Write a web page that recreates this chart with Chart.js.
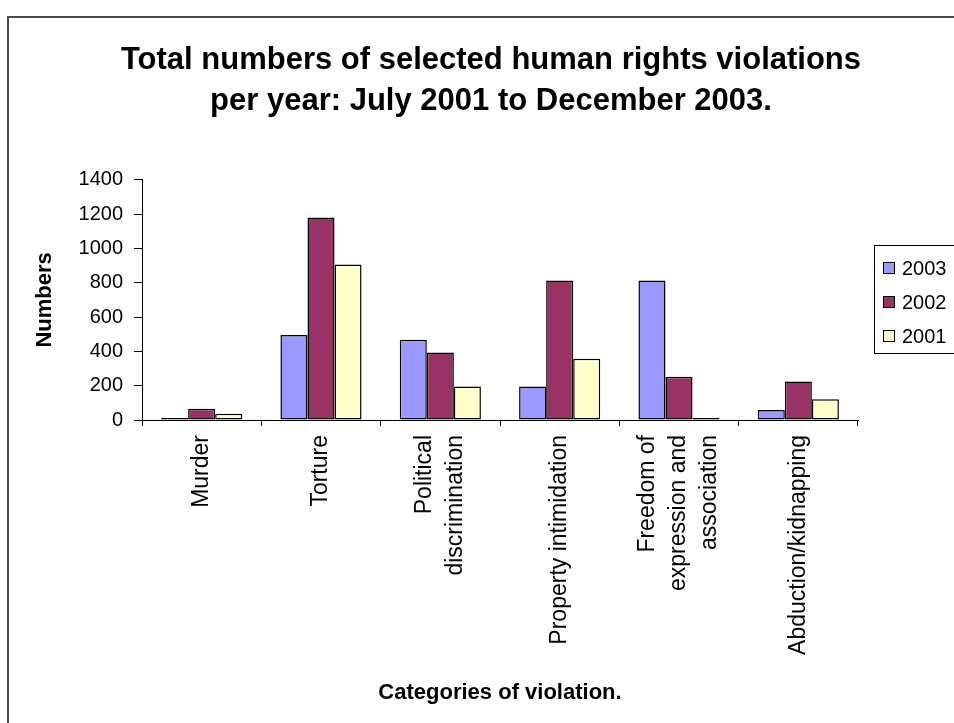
<!DOCTYPE html>
<html>
<head>
<meta charset="utf-8">
<script src="https://cdn.jsdelivr.net/npm/chart.js@4.4.1/dist/chart.umd.min.js"></script>
<style>
  html, body { margin: 0; padding: 0; background: #fff; }
  #wrap { width: 954px; height: 723px; position: relative; overflow: hidden; }
</style>
</head>
<body>
<div id="wrap"><canvas id="violations" width="954" height="723"></canvas></div>
<script>
// violation categories (multi-line labels are split into arrays)
const categories = [
  ['Murder'],
  ['Torture'],
  ['Political', 'discrimination'],
  ['Property intimidation'],
  ['Freedom of', 'expression and', 'association'],
  ['Abduction/kidnapping']
];
const years = ['2003', '2002', '2001'];
const counts2003 = [12, 495, 468, 195, 813, 58];
const counts2002 = [65, 1180, 394, 813, 252, 224];
const counts2001 = [37, 907, 195, 357, 12, 121];
const yearColors = ['#9999FF', '#993366', '#FFFFCC'];
const yTicks = [0, 200, 400, 600, 800, 1000, 1200, 1400];

const FONT = '"Liberation Sans", Arial, Helvetica, sans-serif';
Chart.defaults.font.family = FONT;
Chart.defaults.color = '#000';

// thin frame around the whole chart
const frame = {
  id: 'frame',
  beforeDraw(chart) {
    const ctx = chart.ctx;
    ctx.save();
    ctx.fillStyle = '#fff';
    ctx.fillRect(0, 0, chart.width, chart.height);
    ctx.strokeStyle = '#4a4a4a';
    ctx.lineWidth = 2;
    ctx.beginPath();
    ctx.moveTo(8, chart.height);
    ctx.lineTo(8, 17);
    ctx.lineTo(chart.width, 17);
    ctx.stroke();
    ctx.restore();
  }
};

// vertical category labels, each block centred on its category
const verticalLabels = {
  id: 'verticalLabels',
  afterDraw(chart) {
    const ctx = chart.ctx;
    const xs = chart.scales.x;
    const lh = 31;
    ctx.save();
    ctx.font = '23px ' + FONT;
    ctx.fillStyle = '#000';
    ctx.textAlign = 'right';
    ctx.textBaseline = 'middle';
    chart.data.labels.forEach((lines, i) => {
      const cx = xs.getPixelForTick(i);
      lines.forEach((line, j) => {
        const x = cx + (j - (lines.length - 1) / 2) * lh;
        ctx.save();
        ctx.translate(x, xs.top + 15);
        ctx.rotate(-Math.PI / 2);
        ctx.fillText(line, 0, 0);
        ctx.restore();
      });
    });
    ctx.restore();
  }
};

// boxed legend on the right, partly cut by the edge
const sideLegend = {
  id: 'sideLegend',
  afterDraw(chart) {
    const ctx = chart.ctx;
    const left = 874, top = 245, rowH = 34;
    ctx.save();
    ctx.strokeStyle = '#000';
    ctx.lineWidth = 1;
    ctx.strokeRect(left + 0.5, top + 0.5, 120, 108);
    ctx.font = '20px ' + FONT;
    ctx.textBaseline = 'middle';
    chart.data.datasets.forEach((ds, i) => {
      const cy = top + 23 + i * rowH;
      ctx.fillStyle = ds.backgroundColor;
      ctx.fillRect(left + 9, cy - 6, 12, 12);
      ctx.strokeRect(left + 9.5, cy - 5.5, 11, 11);
      ctx.fillStyle = '#000';
      ctx.fillText(ds.label, left + 28, cy + 1);
    });
    ctx.restore();
  }
};

const seriesData = [counts2003, counts2002, counts2001];

new Chart(document.getElementById('violations'), {
  type: 'bar',
  data: {
    labels: categories,
    datasets: years.map((y, i) => ({
      label: y,
      data: seriesData[i],
      backgroundColor: yearColors[i],
      borderColor: '#000',
      borderWidth: 1.5,
      borderSkipped: false,
      categoryPercentage: 0.68,
      barPercentage: 1.0
    }))
  },
  options: {
    responsive: false,
    animation: false,
    layout: { padding: { left: 28, right: 0, top: 0, bottom: 0 } },
    plugins: {
      legend: { display: false },
      tooltip: { enabled: false },
      title: {
        display: true,
        text: ['Total numbers of selected human rights violations',
               'per year: July 2001 to December 2003.'],
        font: { size: 31, weight: 'bold', lineHeight: 1.32 },
        color: '#000',
        padding: { top: 40, bottom: 58 }
      }
    },
    scales: {
      x: {
        grid: {
          offset: true,
          drawOnChartArea: false,
          drawTicks: true,
          tickLength: 6,
          color: '#000'
        },
        border: { display: true, color: '#000', width: 1 },
        ticks: { display: false },
        title: {
          display: true,
          text: 'Categories of violation.',
          font: { size: 22, weight: 'bold' },
          color: '#000',
          padding: { top: 0, bottom: 17 }
        },
        afterFit(scale) { scale.height = 303; }
      },
      y: {
        min: 0,
        max: 1400,
        afterBuildTicks(scale) { scale.ticks = yTicks.map(v => ({ value: v })); },
        grid: {
          drawOnChartArea: false,
          drawTicks: true,
          tickLength: 8,
          color: '#000'
        },
        border: { display: true, color: '#000', width: 1 },
        ticks: { font: { size: 20 }, color: '#000', padding: 11, callback: v => String(v) },
        title: {
          display: true,
          text: 'Numbers',
          font: { size: 22, weight: 'bold' },
          color: '#000',
          padding: { top: 4, bottom: 0 }
        },
        afterFit(scale) { scale.width = 114; }
      },
      // empty right-hand axis that keeps room for the legend box
      legendRoom: {
        type: 'linear',
        position: 'right',
        grid: { display: false },
        border: { display: false },
        ticks: { display: false },
        afterFit(scale) { scale.width = 96; }
      }
    }
  },
  plugins: [frame, verticalLabels, sideLegend]
});
</script>
</body>
</html>
